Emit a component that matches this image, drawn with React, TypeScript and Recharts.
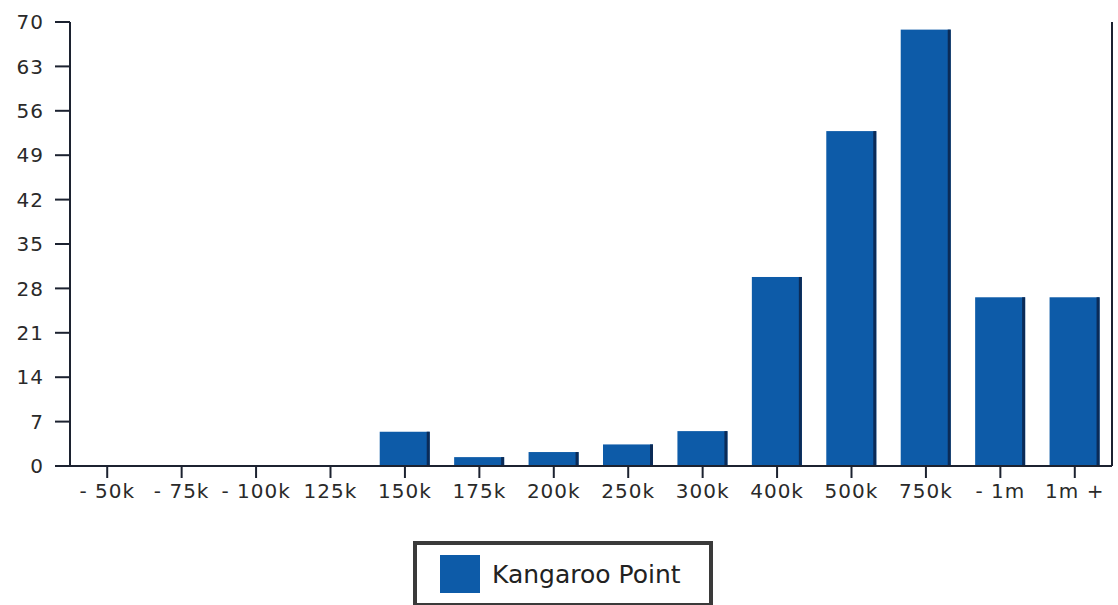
import { BarChart, Bar, XAxis, YAxis, Legend } from 'recharts';

const categories = [
  '- 50k', '- 75k', '- 100k', '125k', '150k', '175k', '200k',
  '250k', '300k', '400k', '500k', '750k', '- 1m', '1m +',
];
const kangarooPoint = [0, 0, 0, 0, 5.4, 1.4, 2.2, 3.4, 5.5, 29.8, 52.8, 68.8, 26.6, 26.6];
const yTicks = [0, 7, 14, 21, 28, 35, 42, 49, 56, 63, 70];
const seriesName = 'Kangaroo Point';

const BLUE = '#0d5ba8';
const EDGE = '#0b2b57';
const AXIS = '#1c2230';
const FONT = '"DejaVu Sans", Verdana, sans-serif';

const data = categories.map((c, i) => ({ range: c, value: kangarooPoint[i] }));

// bar with the darker right-hand edge seen in the original
const ShadedBar = (props: any) => {
  const { x, y, width, height } = props;
  if (!height || height <= 0) return null;
  return (
    <g>
      <rect x={x} y={y} width={width} height={height} fill={BLUE} />
      <rect x={x + width - 3} y={y} width={3} height={height} fill={EDGE} />
    </g>
  );
};

const LegendBox = () => (
  <div
    style={{
      boxSizing: 'border-box',
      width: 300,
      height: 66,
      border: '4px solid #3a3a3a',
      background: '#fff',
      display: 'flex',
      alignItems: 'center',
      paddingLeft: 23,
      fontFamily: FONT,
      fontSize: 25,
      color: '#222',
    }}
  >
    <span style={{ display: 'inline-block', width: 40, height: 38, background: BLUE, marginRight: 12 }} />
    <span>{seriesName}</span>
  </div>
);

const tickStyle = { fill: '#2a2a2a', fontSize: 20, fontFamily: FONT, letterSpacing: 1 };

export default function App() {
  return (
    <div style={{ position: 'absolute', left: 0, top: 0, width: 1118, height: 605, background: '#fff', overflow: 'hidden' }}>
      <BarChart
        width={1118}
        height={605}
        data={data}
        margin={{ top: 22, right: 5, bottom: 33, left: 10 }}
      >
        <XAxis
          dataKey="range"
          interval={0}
          height={40}
          tickSize={12}
          tickMargin={6}
          axisLine={{ stroke: AXIS, strokeWidth: 2 }}
          tickLine={{ stroke: AXIS, strokeWidth: 2 }}
          tick={tickStyle}
        />
        <YAxis
          yAxisId="left"
          domain={[0, 70]}
          ticks={yTicks}
          interval={0}
          width={60}
          tickSize={15}
          tickMargin={11}
          axisLine={{ stroke: AXIS, strokeWidth: 2 }}
          tickLine={{ stroke: AXIS, strokeWidth: 2 }}
          tick={tickStyle}
        />
        <YAxis
          yAxisId="right"
          orientation="right"
          domain={[0, 70]}
          width={1}
          tick={false}
          tickLine={false}
          axisLine={{ stroke: AXIS, strokeWidth: 2 }}
        />
        <Legend
          content={<LegendBox />}
          wrapperStyle={{ position: 'absolute', left: 413, top: 541, width: 300, bottom: 'auto' }}
        />
        <Bar
          yAxisId="left"
          dataKey="value"
          name={seriesName}
          barSize={50}
          shape={<ShadedBar />}
          isAnimationActive={false}
        />
      </BarChart>
    </div>
  );
}
